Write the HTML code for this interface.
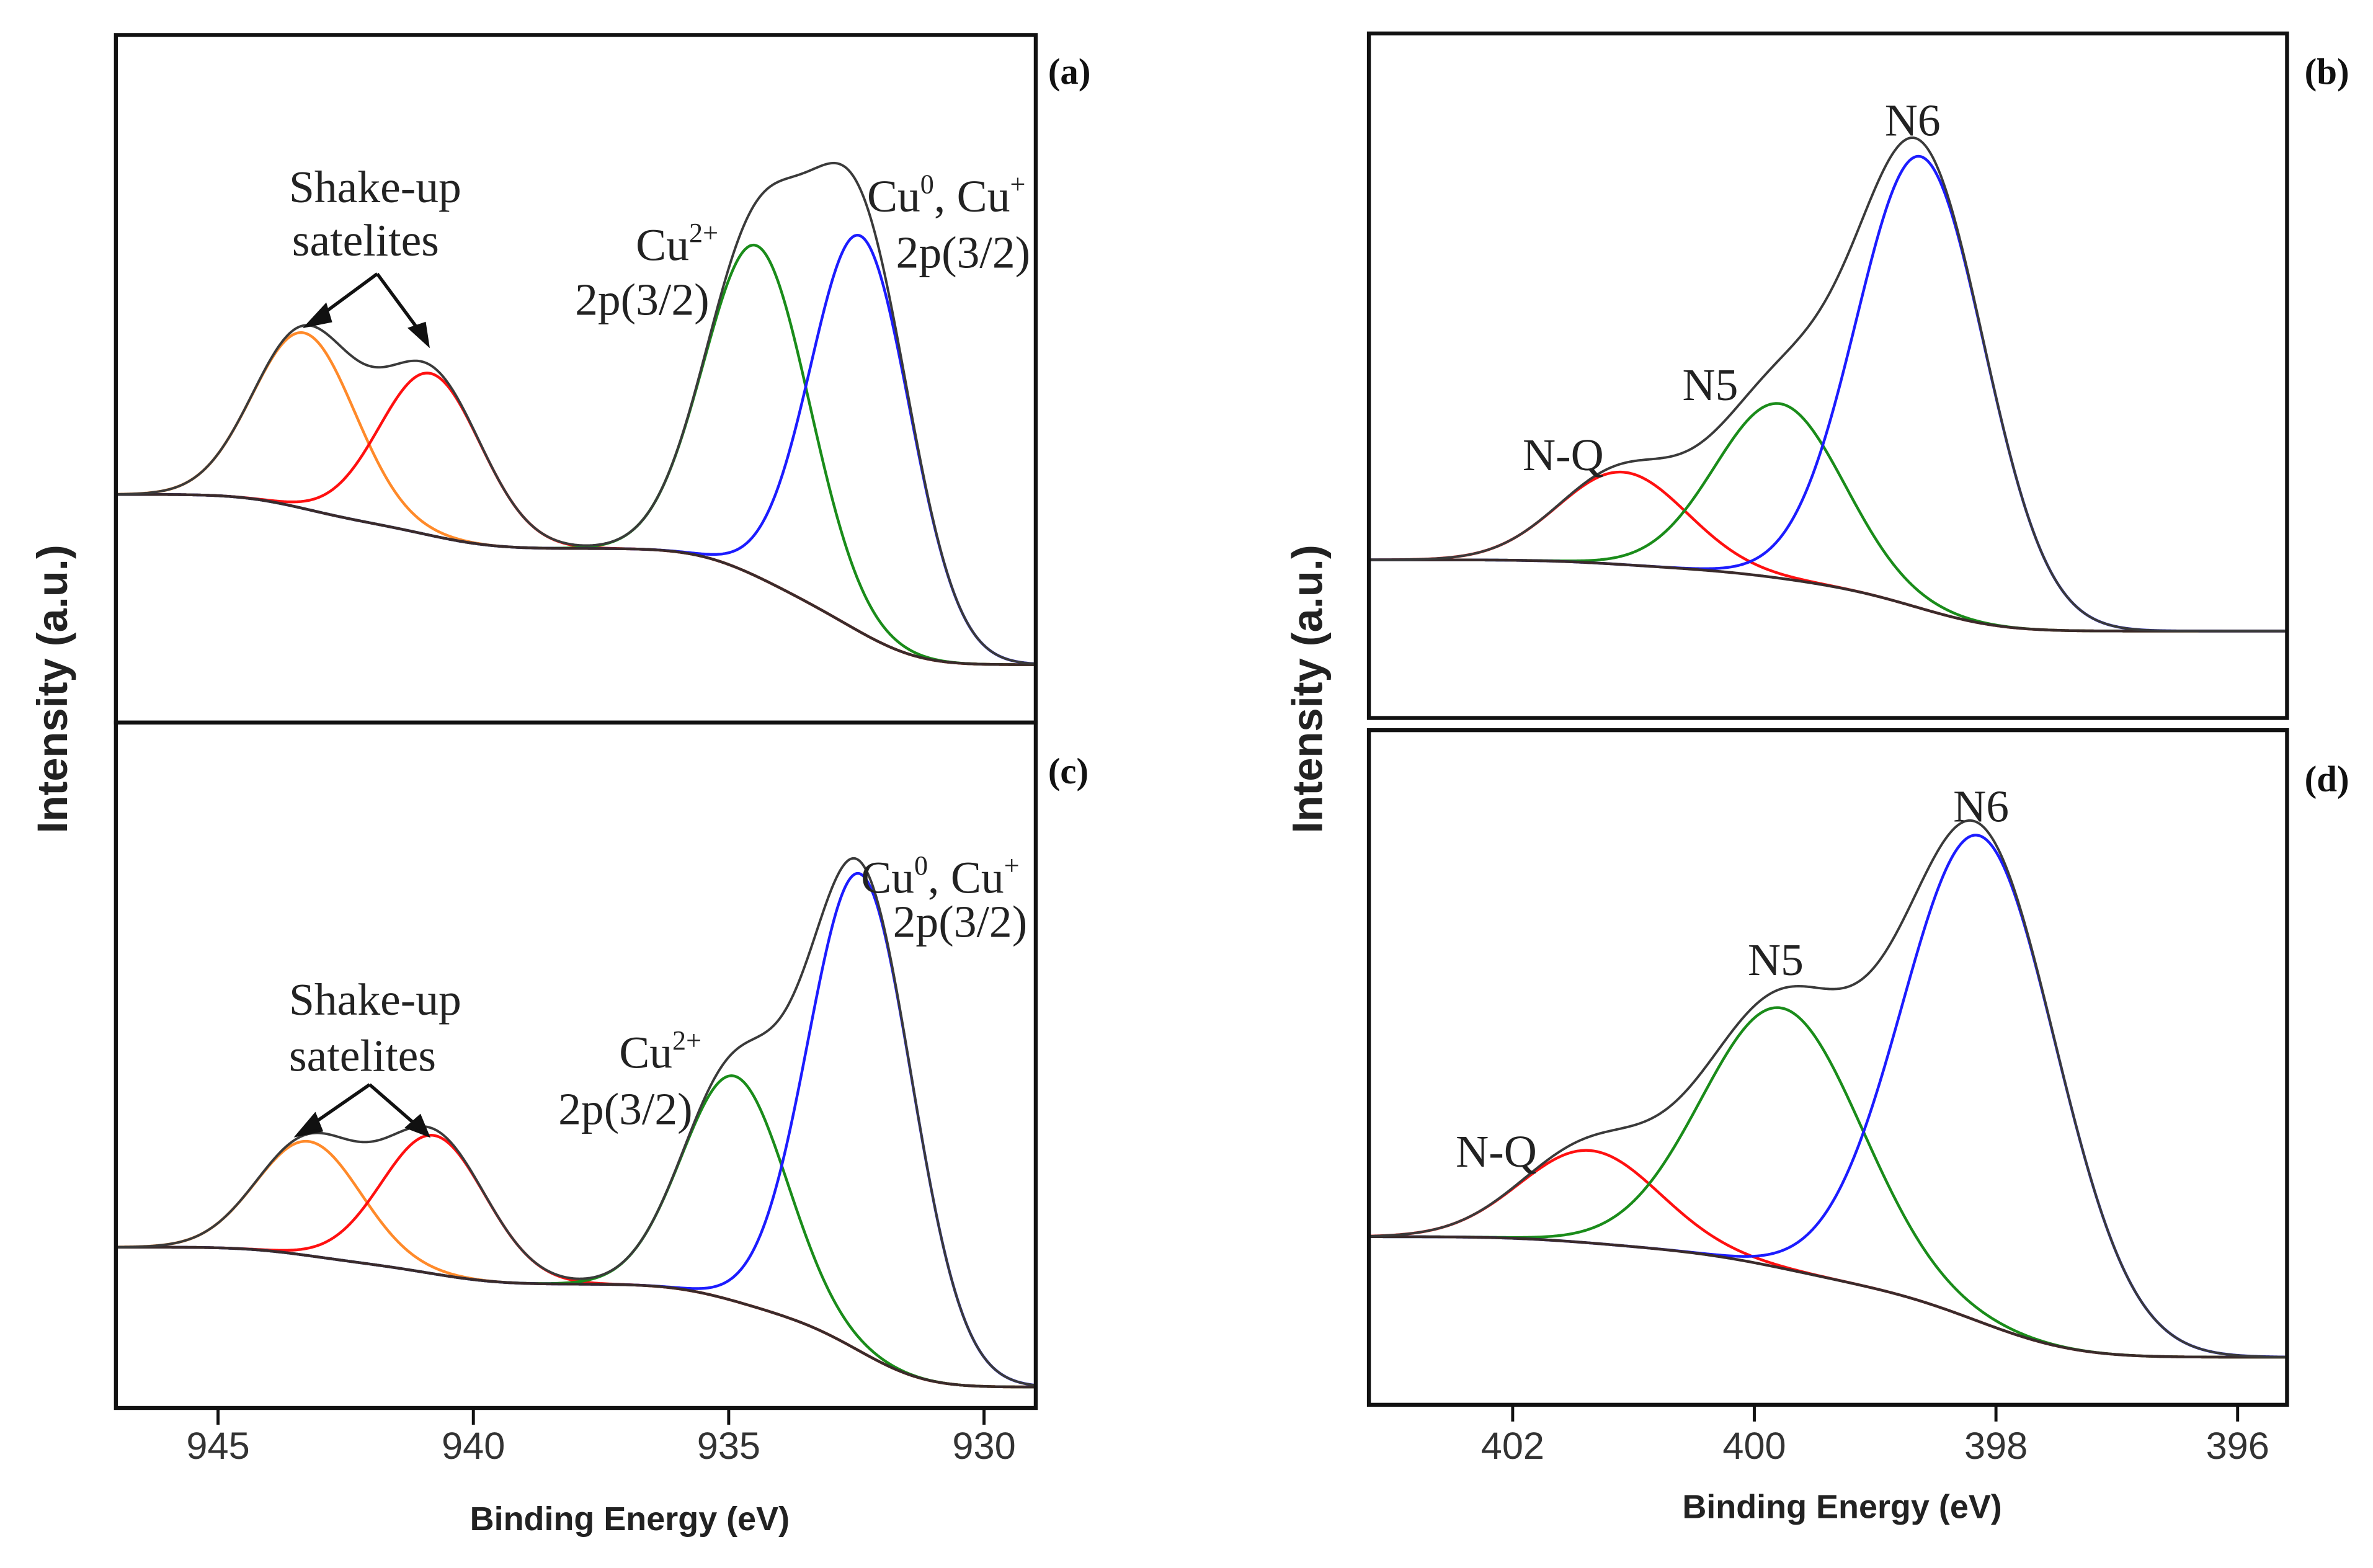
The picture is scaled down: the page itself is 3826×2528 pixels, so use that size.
<!DOCTYPE html>
<html>
<head>
<meta charset="utf-8">
<style>
  html,body{margin:0;padding:0;background:#fff;}
  svg{display:block;}
  .tick{font-family:"Liberation Sans",Arial,sans-serif;font-size:25px;fill:#333;}
  .ann{font-family:"Liberation Serif","Times New Roman",serif;font-size:30px;fill:#222;}
  .plab{font-family:"Liberation Serif","Times New Roman",serif;font-size:24px;font-weight:bold;fill:#111;}
  .atitle{font-family:"Liberation Sans",Arial,sans-serif;font-weight:bold;fill:#222;}
</style>
</head>
<body>
<svg id="fig" xmlns="http://www.w3.org/2000/svg" width="3826" height="2528" viewBox="0 0 1560 1030.8" preserveAspectRatio="none">
  <rect x="0" y="0" width="1560" height="1030.8" fill="#fff"/>
  <g id="curves"></g>

  <rect x="76.2" y="23" width="604.7" height="452" fill="none" stroke="#111" stroke-width="2.6"/>
  <rect x="76.2" y="475" width="604.7" height="450.6" fill="none" stroke="#111" stroke-width="2.6"/>
  <rect x="899.9" y="22" width="603.6" height="450" fill="none" stroke="#111" stroke-width="2.6"/>
  <rect x="899.9" y="480" width="603.6" height="443.5" fill="none" stroke="#111" stroke-width="2.6"/>
  <g id="ticks"></g>

  <text class="atitle" font-size="28" text-anchor="middle" transform="translate(44,453) rotate(-90)">Intensity (a.u.)</text>
  <text class="atitle" font-size="28" text-anchor="middle" transform="translate(869,453) rotate(-90)">Intensity (a.u.)</text>
  <text class="atitle" font-size="22" text-anchor="middle" x="414" y="1006">Binding Energy (eV)</text>
  <text class="atitle" font-size="22" text-anchor="middle" x="1211" y="998">Binding Energy (eV)</text>

  <text class="plab" x="689" y="55">(a)</text>
  <text class="plab" x="1515" y="55">(b)</text>
  <text class="plab" x="689" y="515">(c)</text>
  <text class="plab" x="1515" y="520">(d)</text>

  <text class="ann" x="190" y="133">Shake-up</text>
  <text class="ann" x="192" y="168">satelites</text>
  <g stroke="#111" stroke-width="2.2" fill="#111">
    <path d="M248,180 L210,208" fill="none"/><path d="M248,180 L276,218" fill="none"/>
    <polygon points="202,214 214,201 217,211"/><polygon points="281,226 270,216 279,213"/>
  </g>
  <text class="ann" x="418" y="171">Cu<tspan font-size="18" dy="-12">2+</tspan></text>
  <text class="ann" x="378" y="207">2p(3/2)</text>
  <text class="ann" x="570" y="139">Cu<tspan font-size="18" dy="-12">0</tspan><tspan dy="12">, Cu</tspan><tspan font-size="18" dy="-12">+</tspan></text>
  <text class="ann" x="589" y="176">2p(3/2)</text>

  <text class="ann" x="190" y="667">Shake-up</text>
  <text class="ann" x="190" y="704">satelites</text>
  <g stroke="#111" stroke-width="2.2" fill="#111">
    <path d="M243,713 L204,740" fill="none"/><path d="M243,713 L274,740" fill="none"/>
    <polygon points="196,746 207,733 211,743"/><polygon points="281,746 268,741 276,734"/>
  </g>
  <text class="ann" x="407" y="702">Cu<tspan font-size="18" dy="-12">2+</tspan></text>
  <text class="ann" x="367" y="739">2p(3/2)</text>
  <text class="ann" x="566" y="587">Cu<tspan font-size="18" dy="-12">0</tspan><tspan dy="12">, Cu</tspan><tspan font-size="18" dy="-12">+</tspan></text>
  <text class="ann" x="587" y="616">2p(3/2)</text>

  <text class="ann" x="1239" y="89">N6</text>
  <text class="ann" x="1106" y="263">N5</text>
  <text class="ann" x="1001" y="309">N-Q</text>
  <text class="ann" x="1284" y="540">N6</text>
  <text class="ann" x="1149" y="641">N5</text>
  <text class="ann" x="957" y="767">N-Q</text>
</svg>
<script>
// ---- data (binding energy in eV, intensity in a.u.) ----
var aCenters = [943.31, 940.84, 934.44, 932.41];
var aHeights = [25.5, 23.5, 48, 57.5];
var aFwhm    = [2.35, 2.35, 2.4, 2.3];
var aBackground = [8.4, 33.1];
var cCenters = [943.22, 940.77, 934.88, 932.41];
var cHeights = [16.5, 20, 32.5, 69];
var cFwhm    = [2.4, 2.4, 2.4, 2.4];
var cBackground = [4, 24.2];
var bCenters = [401.09, 399.79, 398.62];
var bHeights = [13.5, 25.5, 66];
var bFwhm    = [1.25, 1.25, 1.25];
var bBackground = [12.7, 23.1];
var dCenters = [401.36, 399.77, 398.13];
var dHeights = [13.5, 38, 71];
var dFwhm    = [1.35, 1.55, 1.5];
var dBackground = [8.4, 26];
var cuTicks = [945, 940, 935, 930];
var nTicks  = [402, 400, 398, 396];

var cuColors = ['#ff8a2a', '#ff1010', '#1a8c1a', '#1c1cff'];
var cuNames  = ['satellite-1', 'satellite-2', 'cu2-component', 'cu0-component'];
var nColors  = ['#ff1010', '#1a8c1a', '#1c1cff'];
var nNames   = ['nq-component', 'n5-component', 'n6-component'];

var NS = 'http://www.w3.org/2000/svg';
function xLeft(E){ return 76.2 + (947 - E) * 33.57; }
function xRight(E){ return 899.9 + (403.19 - E) * 79.43; }

function peak(E, c, h, w){
  var d = E - c;
  return h * Math.exp(-4 * Math.LN2 * d * d / (w * w));
}

function drawPanel(id, centers, heights, fwhm, bg, colors, names, xf, Emin, Emax, y0, ys){
  var g = document.getElementById('curves');
  var N = 700, Es = [], sum = [];
  for (var i = 0; i <= N; i++){
    var E = Emin + (Emax - Emin) * i / N; Es.push(E);
    var s = 0;
    for (var k = 0; k < centers.length; k++){ s += peak(E, centers[k], heights[k], fwhm[k]); }
    sum.push(s);
  }
  var cum = [0];
  for (var i = 1; i <= N; i++){ cum.push(cum[i-1] + (sum[i] + sum[i-1]) / 2); }
  var tot = cum[N];
  var B = cum.map(function(a){ return bg[0] + (bg[1] - bg[0]) * a / tot; });
  function yf(I){ return y0 - I * ys; }
  function mk(vals, color, w, name){
    var d = '';
    for (var i = 0; i <= N; i++){ d += (i ? 'L' : 'M') + xf(Es[i]).toFixed(2) + ',' + yf(vals[i]).toFixed(2); }
    var p = document.createElementNS(NS, 'path');
    p.setAttribute('d', d); p.setAttribute('fill', 'none');
    p.setAttribute('stroke', color); p.setAttribute('stroke-width', w);
    
    
    g.appendChild(p);
  }
  for (var k = 0; k < centers.length; k++){
    var v = Es.map(function(E, i){ return B[i] + peak(E, centers[k], heights[k], fwhm[k]); });
    mk(v, colors[k], 1.8, id + '-' + names[k]);
  }
  mk(B, '#3a2b2b', 1.8, id + '-background');
  mk(Es.map(function(E, i){ return B[i] + sum[i]; }), '#3a3a3a', 1.6, id + '-envelope');
}

drawPanel('panel-a', aCenters, aHeights, aFwhm, aBackground, cuColors, cuNames, xLeft, 929, 947, 475, 4.53);
drawPanel('panel-c', cCenters, cHeights, cFwhm, cBackground, cuColors, cuNames, xLeft, 929, 947, 930, 4.55);
drawPanel('panel-b', bCenters, bHeights, bFwhm, bBackground, nColors, nNames, xRight, 395.59, 403.19, 472, 4.5);
drawPanel('panel-d', dCenters, dHeights, dFwhm, dBackground, nColors, nNames, xRight, 395.59, 403.19, 930, 4.5);

function drawTicks(ticks, xf, yAxis, side){
  var g = document.getElementById('ticks');
  ticks.forEach(function(t){
    var x = xf(t);
    var l = document.createElementNS(NS, 'line');
    l.setAttribute('x1', x); l.setAttribute('x2', x);
    l.setAttribute('y1', yAxis); l.setAttribute('y2', yAxis + 11);
    l.setAttribute('stroke', '#111'); l.setAttribute('stroke-width', 2);
    
    
    g.appendChild(l);
    var tx = document.createElementNS(NS, 'text');
    tx.setAttribute('x', x); tx.setAttribute('y', 959);
    tx.setAttribute('text-anchor', 'middle'); tx.setAttribute('class', 'tick');
    
    
    tx.textContent = String(t);
    g.appendChild(tx);
  });
}
drawTicks(cuTicks, xLeft, 925.6, 'cu-x');
drawTicks(nTicks, xRight, 923.5, 'n-x');
</script>
</body>
</html>
